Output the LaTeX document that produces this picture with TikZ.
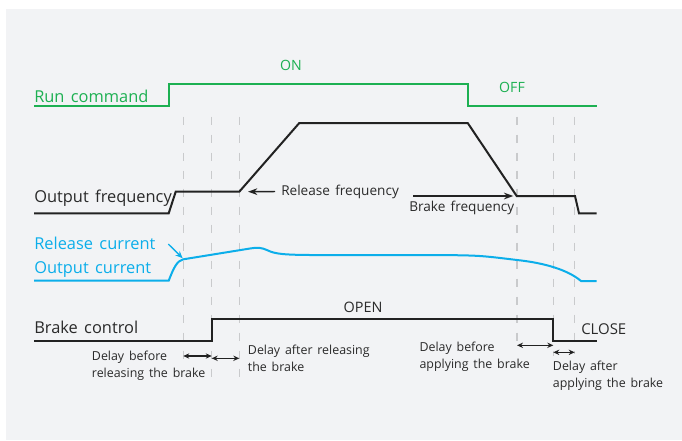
\documentclass[tikz,border=0pt]{standalone}
\usepackage{fontspec}
\setmainfont{Open Sans}[WordSpace=1.5]
\usetikzlibrary{arrows.meta}
\definecolor{bg}{HTML}{F2F3F5}
\definecolor{grn}{HTML}{1DB052}
\definecolor{cyn}{HTML}{0CAEEA}
\definecolor{ink}{HTML}{222222}
\definecolor{txt}{HTML}{2A2A2A}
\definecolor{dsh}{HTML}{C9CACC}
\begin{document}
\begin{tikzpicture}[x=0.75pt,y=-0.75pt,
  wave/.style={line width=1.5pt, line join=miter},
  guide/.style={draw=dsh, line width=0.8pt, dash pattern=on 6.5pt off 7pt},
  biglab/.style={font=\fontsize{12.3}{14}\selectfont, inner sep=0pt, anchor=west},
  midlab/.style={font=\fontsize{10.2}{12}\selectfont, inner sep=0pt, text=txt},
  smalllab/.style={font=\fontsize{9.3}{12.75}\selectfont, inner sep=0pt, anchor=west, align=left, text=txt},
  tip/.style={-{Stealth[length=7pt,width=5pt]}, line width=1.1pt, draw=ink},
  dbl/.style={{Stealth[length=4.5pt,width=4pt]}-{Stealth[length=4.5pt,width=4pt]}, line width=1pt, draw=ink}]
\useasboundingbox (0,0) rectangle (682,440);
\fill[bg] (6,9) rectangle (682,440);

% guide lines
\foreach \gx/\gy in {183.3/366, 211.7/378, 239.3/378, 517/350, 553.3/356, 574.7/354}
  \draw[guide] (\gx,116.7) -- (\gx,\gy);

% Run command
\draw[wave, draw=grn] (34,106) -- (168.7,106) -- (168.7,84.3) -- (467.7,84.3) -- (467.7,106) -- (596.7,106);
\node[biglab, text=grn] (runcmd) at (34,96) {Run command};
\node[midlab, text=grn, font=\fontsize{10.6}{12}\selectfont] (on) at (291,65.7) {ON};
\node[midlab, text=grn, font=\fontsize{10.6}{12}\selectfont] (off) at (512,87) {OFF};

% Output frequency
\draw[wave, draw=ink] (34,213.3) -- (168.7,213.3) -- (175.7,191.7) -- (239.3,191.7) -- (299.3,123) -- (467.7,123) -- (516.7,196) -- (575,196) -- (579,213.3) -- (596.7,213.3);
\node[biglab, text=txt] (outfreq) at (34,198) {Output frequency};
\coordinate (relf) at (248,191.7);
\node[midlab, anchor=west] (relftxt) at (281,191.5) {Release frequency};
\draw[tip] (relftxt.west) ++(-6,0) coordinate (relftail) -- (relf);
\coordinate (brkf) at (513.3,196);
\coordinate (brkftail) at (413.3,196);
\draw[tip] (brkftail) -- (brkf);
\node[midlab, anchor=west] (brkftxt) at (409,208) {Brake frequency};

% Output current
\draw[wave, draw=cyn] (34,280.7) -- (168.7,280.7)
  .. controls (174,267) and (177,261) .. (183.3,259.3)
  -- (250,248.5)
  .. controls (257,247.2) and (262,247.5) .. (268,250.5)
  .. controls (275,254) and (285,254.8) .. (310,255)
  -- (440,255)
  .. controls (480,255.5) .. (517,260)
  .. controls (545,263) and (568,270) .. (581,281)
  -- (596.7,281);
\node[biglab, text=cyn] (relcur) at (34,243.3) {Release current};
\node[biglab, text=cyn] (outcur) at (34,269.3) {Output current};
\coordinate (relcurtip) at (182.7,258.3);
\coordinate (relcurtail) at (168.3,244);
\draw[-{Stealth[length=5.5pt,width=4.5pt]}, line width=1pt, draw=cyn] (relcurtail) -- (relcurtip);

% Brake control
\draw[wave, draw=ink] (34,341) -- (211.7,341) -- (211.7,319.3) -- (553.3,319.3) -- (553.3,341) -- (596.7,341);
\node[biglab, text=txt] (brkctl) at (34,327.3) {Brake control};
\node[midlab, font=\fontsize{10.8}{12}\selectfont] (open) at (363,307.3) {OPEN};
\node[midlab, anchor=west, font=\fontsize{11.2}{12}\selectfont] (close) at (581,329.3) {CLOSE};

% delays
\coordinate (a1) at (183.3,356); \coordinate (a2) at (211.7,356);
\draw[dbl] (a1) -- (a2);
\coordinate (b1) at (211.7,358.3); \coordinate (b2) at (239.3,358.3);
\draw[dbl] (b1) -- (b2);
\coordinate (c1) at (517,345.3); \coordinate (c2) at (553.3,345.3);
\draw[dbl] (c1) -- (c2);
\coordinate (d1) at (553.3,352.3); \coordinate (d2) at (574.7,352.3);
\draw[dbl] (d1) -- (d2);

\node[smalllab] (dbr) at (91.7,365.8) {Delay before\\releasing the brake};
\node[smalllab] (dar) at (247.7,358) {Delay after releasing\\the brake};
\node[smalllab] (dba) at (419.3,356.7) {Delay before\\applying the brake};
\node[smalllab] (daa) at (552.7,376) {Delay after\\applying the brake};
\end{tikzpicture}
\end{document}
